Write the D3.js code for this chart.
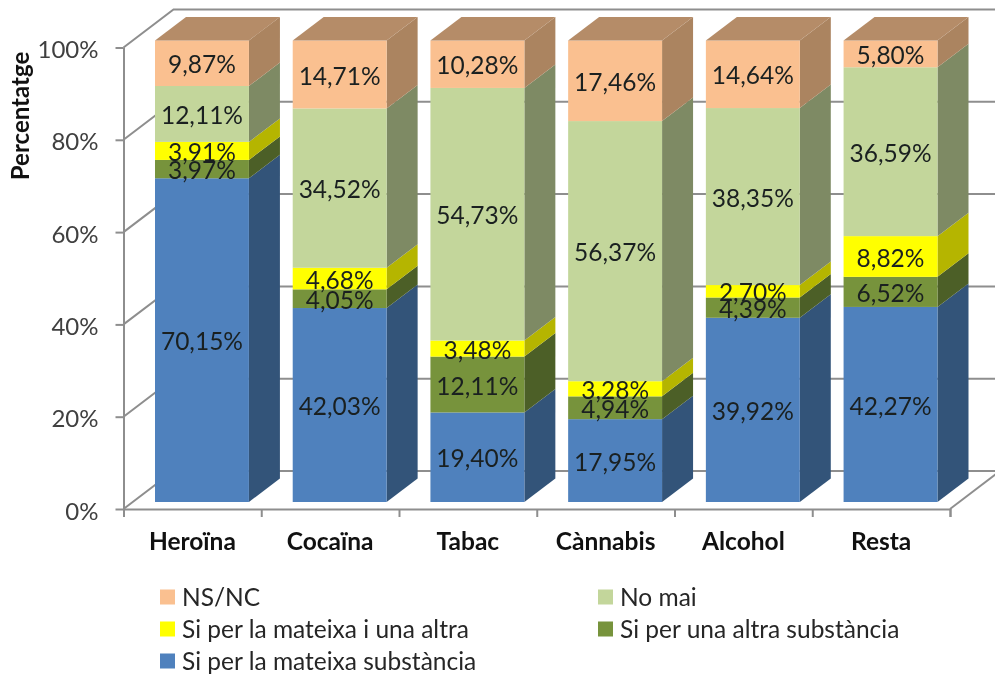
<!DOCTYPE html>
<html>
    <head>
        <meta charset="utf-8">
        <title>Percentatge per substància</title>
        <script src="https://d3js.org/d3.v7.min.js"></script>
        <style>
            html, body { margin: 0; padding: 0; background: #fff; }
            svg { display: block; filter: blur(0.45px); }
            text { font-family: Lato, "Open Sans", sans-serif; }
        </style>
    </head>
    <body>
        <div id="my_chart"></div>
    </body>
    <script>
        // values
        var categories = ['Heroïna', 'Cocaïna', 'Tabac', 'Cànnabis', 'Alcohol', 'Resta'];
        var mateixa = [70.15, 42.03, 19.40, 17.95, 39.92, 42.27];
        var altra = [3.97, 4.05, 12.11, 4.94, 4.39, 6.52];
        var mateixaAltra = [3.91, 4.68, 3.48, 3.28, 2.70, 8.82];
        var noMai = [12.11, 34.52, 54.73, 56.37, 38.35, 36.59];
        var nsnc = [9.87, 14.71, 10.28, 17.46, 14.64, 5.80];

        var seriesNames = ['Si per la mateixa substància', 'Si per una altra substància', 'Si per la mateixa i una altra', 'No mai', 'NS/NC'];
        var seriesValues = [mateixa, altra, mateixaAltra, noMai, nsnc];
        var frontColors = ['#4f81bd', '#77933c', '#ffff00', '#c3d69b', '#fac090'];
        var sideColors = ['#335479', '#4c5f27', '#b5b500', '#7e8a64', '#ab8460'];
        var topColor = '#b58c68';
        var yTicks = [0, 20, 40, 60, 80, 100];

        var width = 995, height = 675;
        var axisLeft = 123.5, axisRight = 950, axisBase = 509, axisTop = 47.5;
        var wall = {dx: 50, dy: -38};   // offset of the back wall
        var depth = {dx: 31, dy: -23.5}; // bar depth
        var gridColor = '#8e8e8e';

        var svg = d3.select('#my_chart').append('svg')
            .attr('width', width).attr('height', height);

        var axisY = d3.scaleLinear().domain([0, 100]).range([axisBase, axisTop]);
        var barY = d3.scaleLinear().domain([0, 100]).range([502, 40.5]);
        var barX = d3.scaleBand().domain(categories).range([155, 937.5]).paddingInner(0.318).paddingOuter(0);
        var catX = d3.scaleBand().domain(categories).range([axisLeft, axisRight]);
        var tickX = d3.scaleLinear().domain([0, categories.length]).range([axisLeft, axisRight]);

        // stack the series per category
        var rows = categories.map(function(c, i){
            var row = {category: c};
            seriesNames.forEach(function(s, j){ row[s] = seriesValues[j][i]; });
            return row;
        });
        var stacked = d3.stack().keys(seriesNames)(rows);

        // back wall and left wall grid lines
        var grid = svg.append('g').attr('fill', 'none').attr('stroke', gridColor).attr('stroke-width', 2);
        yTicks.forEach(function(t){
            var y = axisY(t);
            grid.append('path').attr('d', d3.line()([
                [axisLeft, y], [axisLeft + wall.dx, y + wall.dy], [width, y + wall.dy]
            ]));
        });
        // floor edge on the right
        grid.append('path').attr('d', d3.line()([
            [axisRight, axisBase], [axisRight + wall.dx, axisBase + wall.dy]
        ]));

        // bars: side face, front face, then the lid on top
        var bars = svg.append('g');
        stacked.forEach(function(layer, j){
            layer.forEach(function(d){
                var c = d.data.category;
                var x0 = barX(c), x1 = x0 + barX.bandwidth();
                var y0 = barY(d[0]), y1 = barY(d[1]);
                bars.append('path')
                    .attr('fill', sideColors[j])
                    .attr('d', d3.line()([
                        [x1, y0], [x1 + depth.dx, y0 + depth.dy], [x1 + depth.dx, y1 + depth.dy], [x1, y1]
                    ]) + 'Z');
                bars.append('rect')
                    .attr('x', x0).attr('y', y1)
                    .attr('width', barX.bandwidth()).attr('height', y0 - y1)
                    .attr('fill', frontColors[j]);
            });
        });
        categories.forEach(function(c){
            var x0 = barX(c), x1 = x0 + barX.bandwidth(), y = barY(100);
            bars.append('path')
                .attr('fill', topColor)
                .attr('d', d3.line()([
                    [x0, y], [x1, y], [x1 + depth.dx, y + depth.dy], [x0 + depth.dx, y + depth.dy]
                ]) + 'Z');
        });

        // value labels, centred on each segment
        var labels = svg.append('g')
            .attr('text-anchor', 'middle')
            .attr('font-size', 24.5)
            .attr('fill', '#1a2020');
        stacked.forEach(function(layer){
            layer.forEach(function(d, i){
                labels.append('text')
                    .attr('x', barX(d.data.category) + barX.bandwidth() / 2)
                    .attr('y', barY((d[0] + d[1]) / 2) + 1.5)
                    .attr('dy', '0.35em')
                    .text(seriesValues[layer.index][i].toFixed(2).replace('.', ',') + '%');
            });
        });

        // axes
        var yAxis = svg.append('g')
            .attr('transform', 'translate(' + axisLeft + ',0)')
            .call(d3.axisLeft(axisY).tickValues(yTicks).tickSize(8).tickPadding(17).tickFormat(function(d){ return d + '%'; }));
        yAxis.selectAll('text').attr('font-size', 24).attr('fill', '#404040').attr('font-family', 'Lato').attr('dy', '0.42em');
        yAxis.selectAll('path,line').attr('stroke', gridColor).attr('stroke-width', 2);
        yAxis.select('.domain').attr('d', 'M0.5,' + axisTop + 'V' + (axisBase + 8));

        var xTicks = svg.append('g')
            .attr('transform', 'translate(0,' + axisBase + ')')
            .call(d3.axisBottom(tickX).tickValues(d3.range(categories.length + 1)).tickSize(8).tickFormat(''));
        xTicks.selectAll('path,line').attr('stroke', gridColor).attr('stroke-width', 2);

        var xLabels = svg.append('g')
            .attr('transform', 'translate(0,' + axisBase + ')')
            .call(d3.axisBottom(catX).tickSize(0).tickPadding(24));
        xLabels.select('.domain').remove();
        xLabels.selectAll('text').attr('font-size', 24.5).attr('font-weight', 700).attr('fill', '#111').attr('font-family', 'Lato');

        svg.append('text')
            .attr('transform', 'translate(29,116) rotate(-90)')
            .attr('text-anchor', 'middle')
            .attr('font-size', 24)
            .attr('font-weight', 700)
            .attr('fill', '#111')
            .text('Percentatge');

        // legend, top series first
        var legendRows = [4, 3, 2, 1, 0];
        var legendX = [160, 598], legendY = [597, 629, 661];
        legendRows.forEach(function(s, i){
            var lx = legendX[i % 2], ly = legendY[Math.floor(i / 2)];
            svg.append('rect').attr('x', lx).attr('y', ly - 7.5).attr('width', 15).attr('height', 15).attr('fill', frontColors[s]);
            svg.append('text')
                .attr('x', lx + 22).attr('y', ly).attr('dy', '0.35em')
                .attr('font-size', 24.5)
                .attr('fill', '#262626')
                .text(seriesNames[s]);
        });
    </script>
</html>
